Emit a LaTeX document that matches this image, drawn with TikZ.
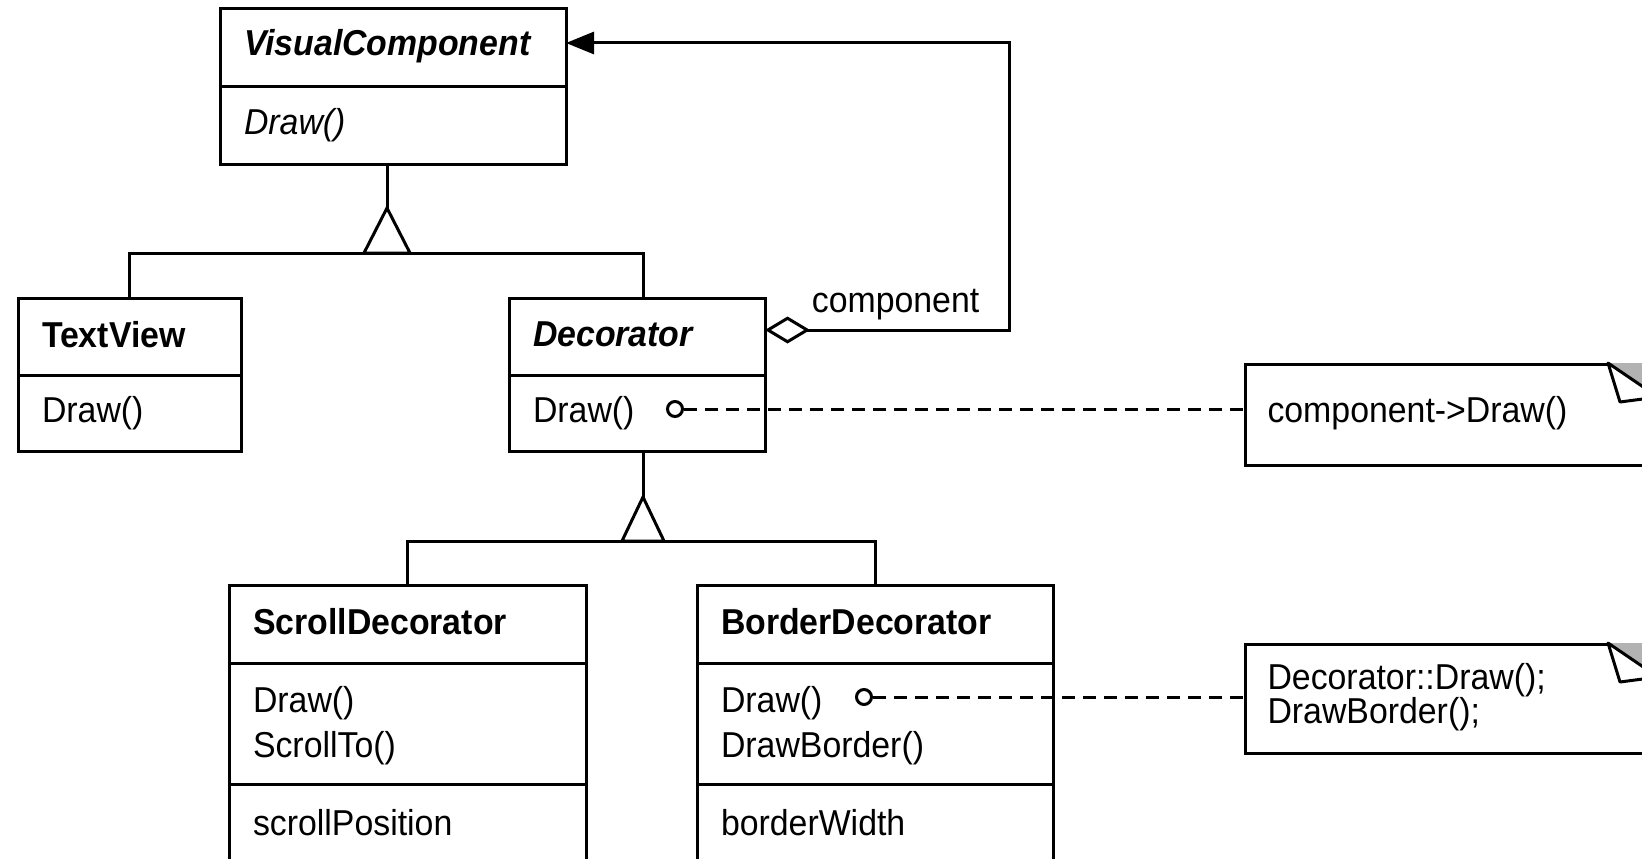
\documentclass[tikz,border=0pt]{standalone}
\usepackage{fontspec}
\setmainfont{Liberation Sans}[FakeStretch=0.94]
\usetikzlibrary{arrows.meta}

% raise a line of text, keeping its box size
\newcommand{\lift}[2][2pt]{\raisebox{#1}[\height][\depth]{#2}}

\begin{document}
\begin{tikzpicture}[%
      x=1pt, y=-1pt,
      line width=3pt,
      every node/.style={font=\fontsize{36pt}{45pt}\selectfont},
      part/.style={rectangle, anchor=north west, inner xsep=24pt, inner ysep=0pt, outer sep=0pt, align=left},
      note/.style={draw, rectangle, anchor=north west, inner xsep=22pt, inner ysep=0pt, align=left,
        font=\fontsize{36pt}{34pt}\selectfont},
      lollipop/.style={draw, circle, fill=white, minimum size=15pt, inner sep=0pt},
      link/.style={dash pattern=on 13pt off 8pt},
      ]
      \clip (0,0) rectangle (1642,859);

      % classes
      \node[part, minimum width=346pt, minimum height=78pt, text width=298pt] (vcname) at (220,9) {\lift{\bfseries\itshape VisualComponent}};
      \node[part, minimum width=346pt, minimum height=77pt, text width=298pt] (vcops) at (vcname.south west) {\lift[0pt]{\itshape Draw()}};

      \node[part, minimum width=223pt, minimum height=77pt, text width=175pt] (tvname) at (18,298) {\lift{\bfseries TextView}};
      \node[part, minimum width=223pt, minimum height=76pt, text width=175pt] (tvops) at (tvname.south west) {\lift[0pt]{Draw()}};

      \node[part, minimum width=256pt, minimum height=77pt, text width=208pt] (decname) at (509,298) {\lift{\bfseries\itshape Decorator}};
      \node[part, minimum width=256pt, minimum height=76pt, text width=208pt] (decops) at (decname.south west) {\lift[0pt]{Draw()}};

      \node[part, minimum width=357pt, minimum height=78pt, text width=309pt] (sdname) at (229,585) {\lift{\bfseries ScrollDecorator}};
      \node[part, minimum width=357pt, minimum height=121pt, text width=309pt] (sdops) at (sdname.south west) {\lift[-2pt]{Draw()}\\\lift[-2pt]{ScrollTo()}};
      \node[part, minimum width=357pt, minimum height=78pt, text width=309pt] (sdattr) at (sdops.south west) {\lift[0pt]{scrollPosition}};

      \node[part, minimum width=356pt, minimum height=78pt, text width=308pt] (bdname) at (697,585) {\lift{\bfseries BorderDecorator}};
      \node[part, minimum width=356pt, minimum height=121pt, text width=308pt] (bdops) at (bdname.south west) {\lift[-2pt]{Draw()}\\\lift[-2pt]{DrawBorder()}};
      \node[part, minimum width=356pt, minimum height=78pt, text width=308pt] (bdattr) at (bdops.south west) {\lift[0pt]{borderWidth}};

      \foreach \top/\bot in {vcname/vcops, tvname/tvops, decname/decops, sdname/sdattr, bdname/bdattr}
        \draw (\top.north west) rectangle (\bot.south east);
      \foreach \p in {vcname, tvname, decname, sdname, sdops, bdname, bdops}
        \draw (\p.south west) -- (\p.south east);

      % notes
      \node[note, minimum width=411pt, minimum height=101pt, text width=367pt] (n1) at (1244,363) {\lift{component->Draw()}};
      \node[note, minimum width=411pt, minimum height=109pt, text width=367pt] (n2) at (1244,643) {\lift{Decorator::Draw();}\\\lift{DrawBorder();}};
      \foreach \n in {n1,n2} {
        \fill[gray!60] ([xshift=-50pt]\n.north east) -- (\n.north east) -- ([yshift=-34pt]\n.north east) -- cycle;
        \draw[fill=white, line join=round] ([xshift=-50pt]\n.north east) -- ([xshift=-38pt,yshift=-39pt]\n.north east)
          -- ([yshift=-34pt]\n.north east) -- cycle;
      }

      % inheritance
      \draw ([xshift=-6pt]vcops.south) -- ++(0,44) coordinate (tipA);
      \draw[line join=miter] (tipA) -- ++(-23,45) -- ++(46,0) -- cycle;
      \draw (tvname.north) -- ++(0,-45) -| ([xshift=6pt]decname.north);

      \draw ([xshift=6pt]decops.south) -- ++(0,46) coordinate (tipB);
      \draw[line join=miter] (tipB) -- ++(-21,44) -- ++(42,0) -- cycle;
      \draw (sdname.north) -- ++(0,-44) -| (bdname.north);

      % aggregation
      \draw[{Diamond[open,length=45pt,width=27pt]}-{Triangle[length=28pt,width=22pt]}]
        ([yshift=6.5pt]decname.east) -- ++(244.5,0) |- ([yshift=5pt]vcname.east);
      \node[anchor=base west] (role) at (807,312) {component};

      % note links
      \node[lollipop] (dot1) at (675,409) {};
      \draw[link] (dot1) -- (dot1 -| n1.west);
      \node[lollipop] (dot2) at (864,697) {};
      \draw[link] (dot2) -- (dot2 -| n2.west);
\end{tikzpicture}
\end{document}
